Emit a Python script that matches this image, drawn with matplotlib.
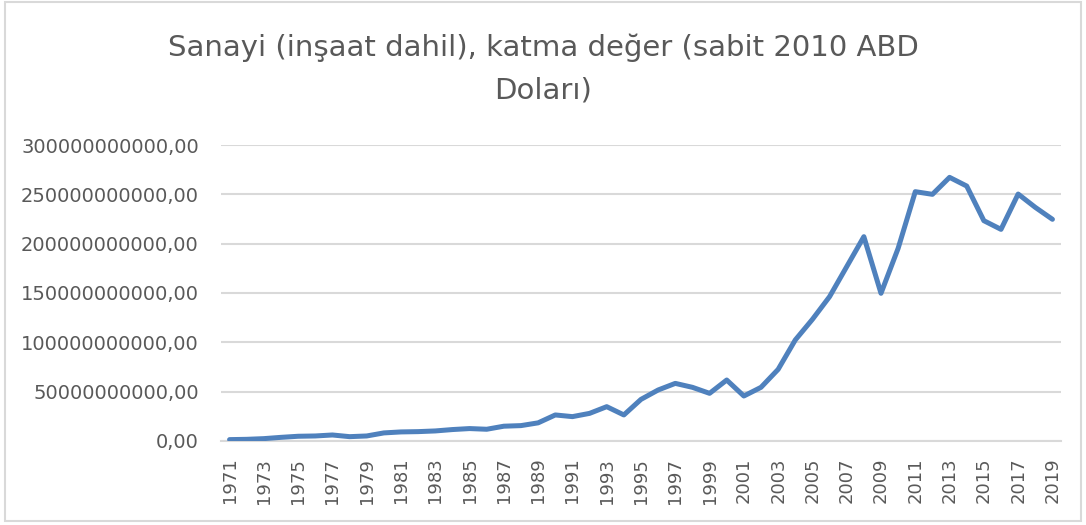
import matplotlib
matplotlib.use('Agg')
import matplotlib.pyplot as plt
from matplotlib.patches import Rectangle
from matplotlib.ticker import FuncFormatter

years = list(range(1971, 2020))
# industry value added, billions of constant 2010 USD
values_bn = [1.4, 1.7, 2.4, 3.7, 4.8, 5.1, 6.1, 4.4, 5.1, 8.2,
             9.2, 9.5, 10.2, 11.6, 12.6, 11.9, 15.0, 15.6, 18.4, 26.4,
             24.7, 28.0, 34.8, 26.4, 42.2, 51.7, 58.4, 54.4, 48.3, 61.8,
             45.6, 54.4, 72.6, 102.4, 123.3, 146.3, 176.7, 207.1, 149.7, 195.3,
             252.7, 250.0, 267.2, 258.4, 223.3, 214.5, 250.3, 236.8, 224.7]
values = [v * 1e9 for v in values_bn]
y_ticks = [0, 50e9, 100e9, 150e9, 200e9, 250e9, 300e9]
x_ticks = years[::2]

title = 'Sanayi (inşaat dahil), katma değer (sabit 2010 ABD\nDoları)'

text_color = '#595959'
grid_color = '#D9D9D9'
line_color = '#4F81BD'

fig = plt.figure(figsize=(10.86, 5.25), dpi=100)
ax = fig.add_axes([221 / 1086, 1 - 441 / 525, 840 / 1086, 296 / 525])

ax.plot(years, values, color=line_color, linewidth=3.6, solid_capstyle='round',
        solid_joinstyle='round', zorder=3)

ax.set_xlim(1970.5, 2019.5)
ax.set_ylim(0, 300e9)
ax.set_yticks(y_ticks)
ax.set_xticks(x_ticks)
ax.set_xticklabels([str(y) for y in x_ticks], rotation=90, va='top')
ax.yaxis.set_major_formatter(FuncFormatter(lambda v, p: f'{int(round(v))},00'))

ax.grid(axis='y', color=grid_color, linewidth=1.5, zorder=0)
for side in ['top', 'right', 'left']:
    ax.spines[side].set_visible(False)
ax.spines['bottom'].set_color(grid_color)
ax.spines['bottom'].set_linewidth(1.5)
ax.tick_params(axis='y', length=0, pad=16, labelsize=14, labelcolor=text_color)
ax.tick_params(axis='x', length=0, pad=12, labelsize=13, labelcolor=text_color)

fig.text(0.5, 1 - 69 / 525, title, ha='center', va='center', fontsize=21,
         color=text_color, linespacing=1.7)

fig.patches.append(Rectangle((5 / 1086, 4 / 525), 1076 / 1086, 519 / 525,
                             transform=fig.transFigure, fill=False,
                             edgecolor=grid_color, linewidth=1.5))

fig.savefig('out.png', dpi=100)
